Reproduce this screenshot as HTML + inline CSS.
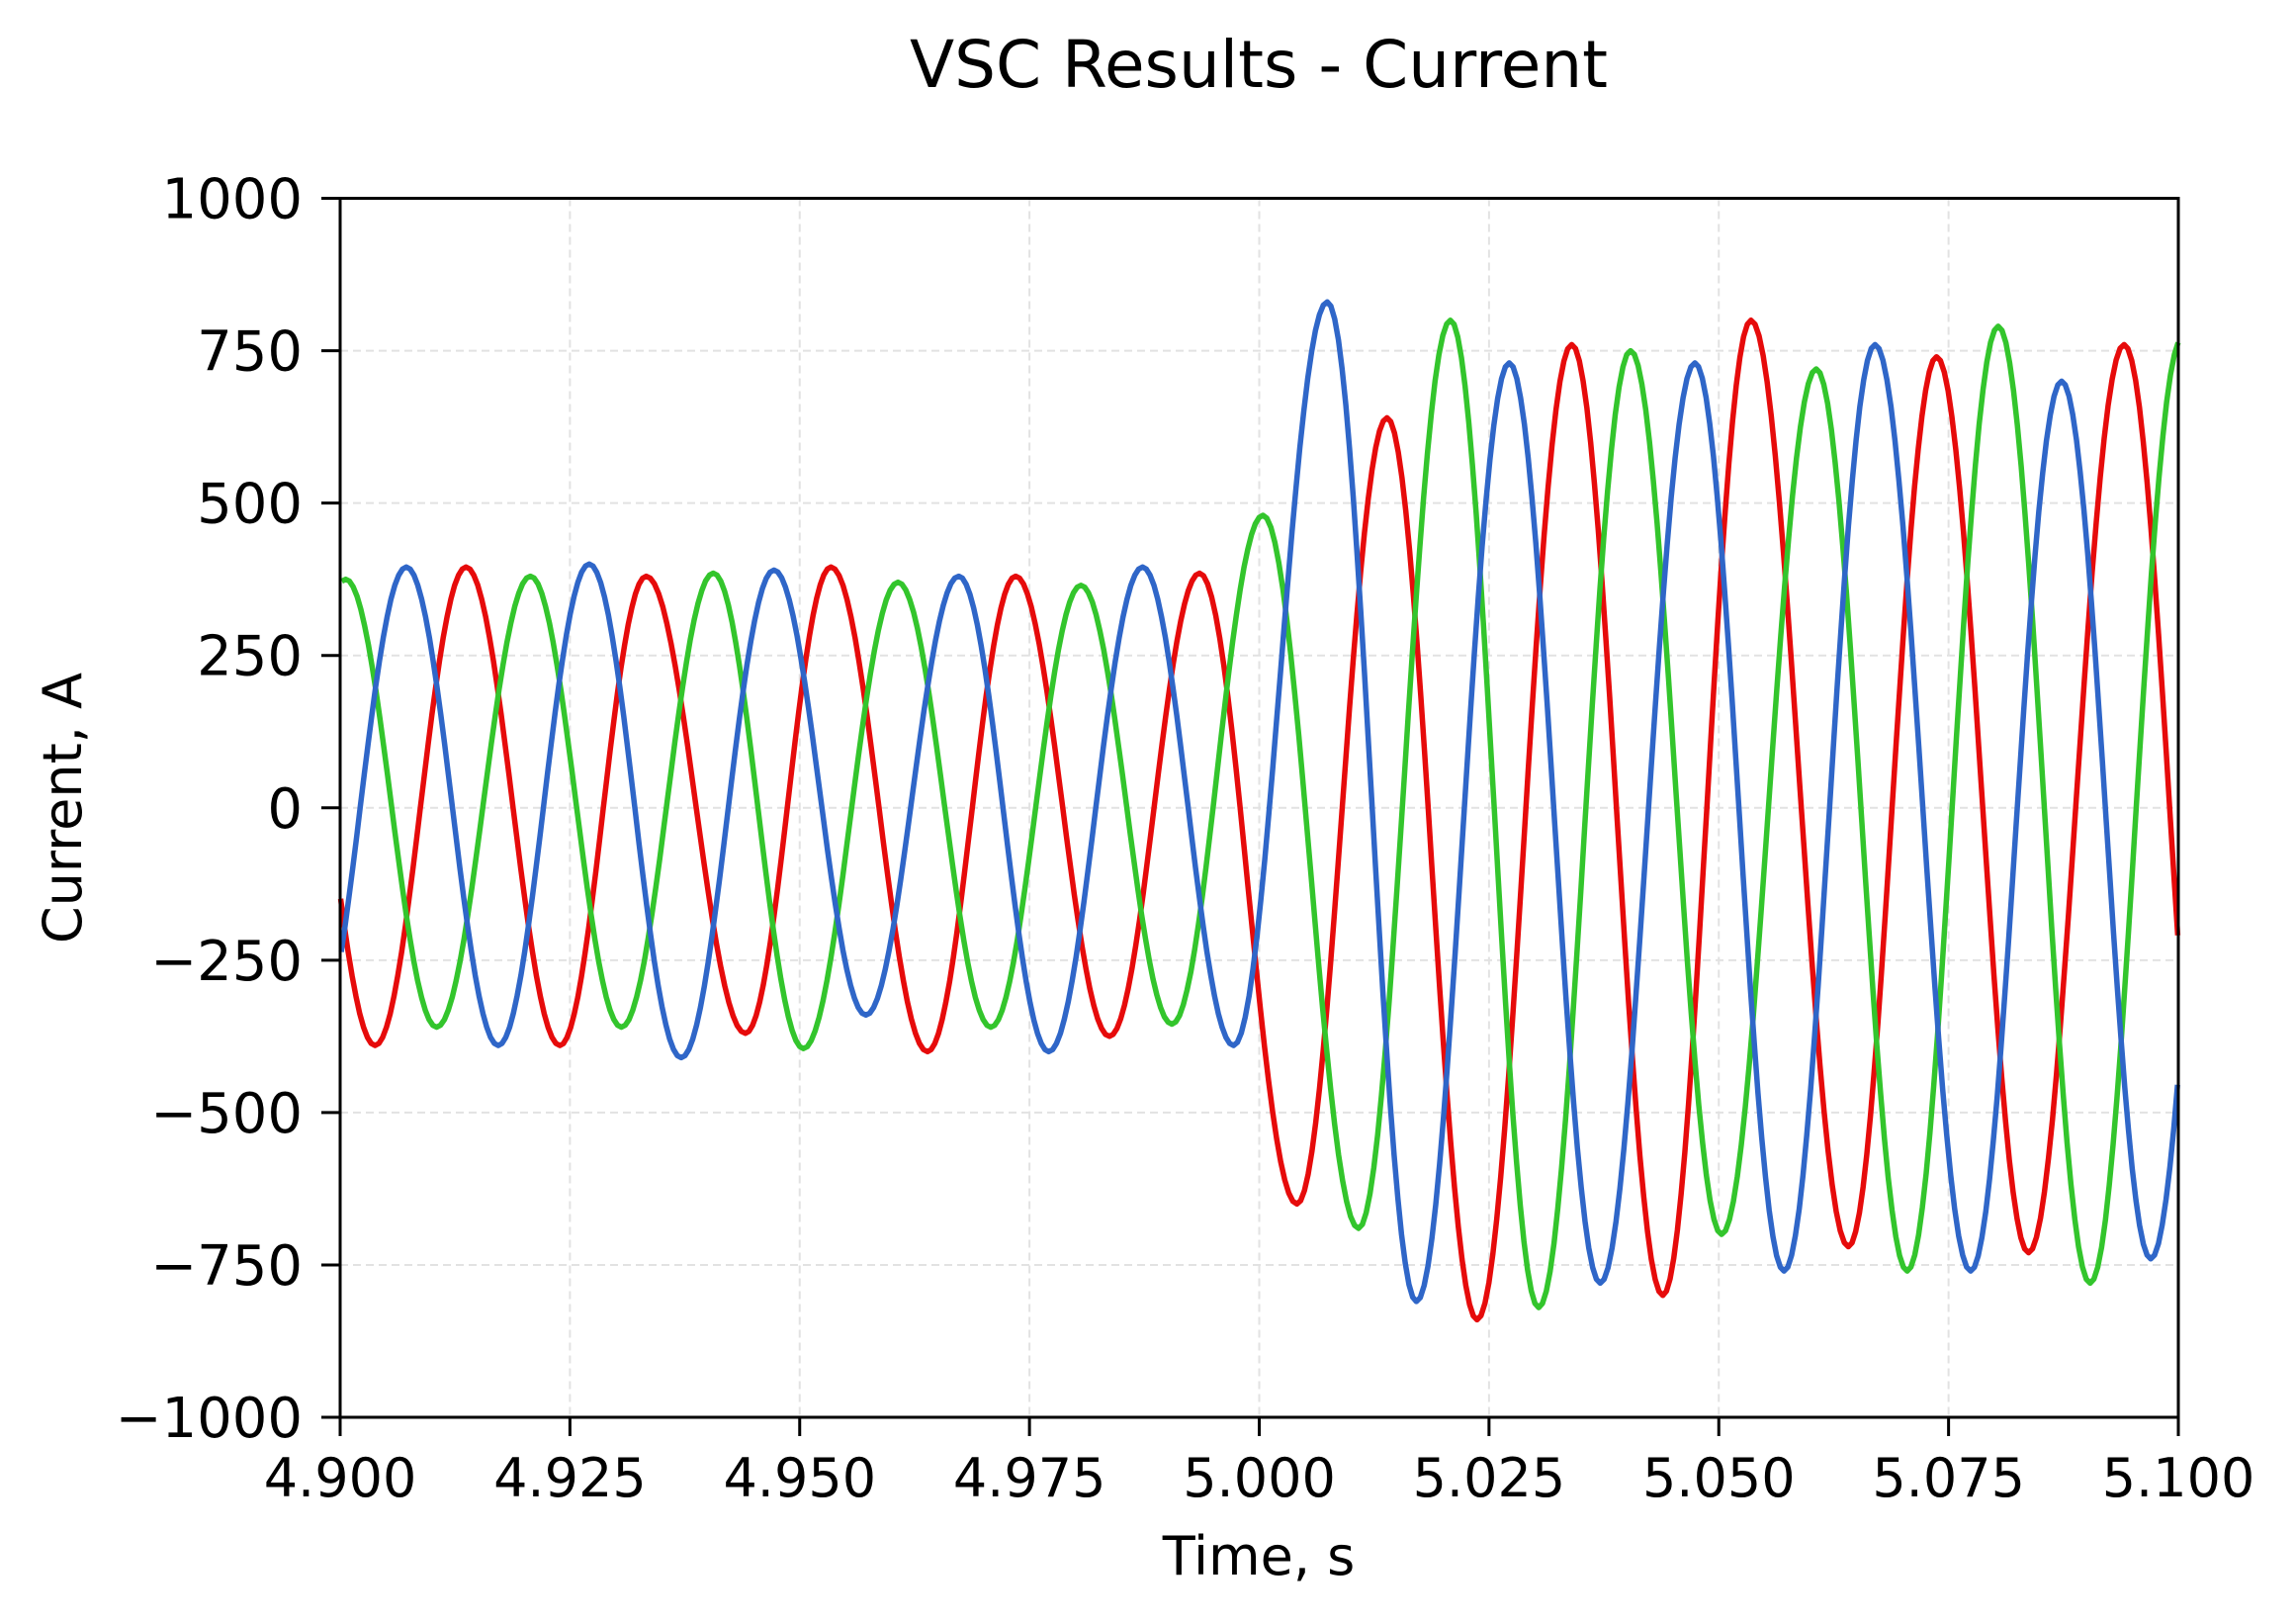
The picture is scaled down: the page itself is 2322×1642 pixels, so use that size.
<!DOCTYPE html>
<html><head><meta charset="utf-8"><style>
html,body{margin:0;padding:0;background:#fff;}
svg{display:block;font-family:"DejaVu Sans","Liberation Sans",sans-serif;}
</style></head><body>
<svg id="chart" width="2322" height="1642" viewBox="0 0 2322 1642" xmlns="http://www.w3.org/2000/svg">
<text x="1273" y="88" font-size="66" text-anchor="middle" fill="#000">VSC Results - Current</text>
<text x="1273" y="1592" font-size="54" text-anchor="middle" fill="#000">Time, s</text>
<text x="0" y="0" font-size="54" text-anchor="middle" fill="#000" transform="translate(82,817) rotate(-90)">Current, A</text>
<g id="grid"></g>
<g id="series"></g>
<rect x="344" y="200.5" width="1859" height="1232.5" fill="none" stroke="#000" stroke-width="3"/>
<g id="ticks"></g>
</svg>
<script>
const xTicks = [4.900, 4.925, 4.950, 4.975, 5.000, 5.025, 5.050, 5.075, 5.100];
const xTickLabels = ["4.900","4.925","4.950","4.975","5.000","5.025","5.050","5.075","5.100"];
const yTicks = [-1000, -750, -500, -250, 0, 250, 500, 750, 1000];
const yTickLabels = ["\u22121000","\u2212750","\u2212500","\u2212250","0","250","500","750","1000"];

// Extremum times / values (phase A red)
const redT = [4.8938,4.9038,4.9137,4.9239,4.9333,4.9441,4.9534,4.9639,4.9735,4.9837,4.9935,5.0041,5.0139,5.0237,5.0340,5.0439,5.0535,5.0641,5.0737,5.0837,5.0941,5.1041];
const redV = [390,-390,395,-390,380,-370,395,-400,380,-375,385,-650,640,-840,760,-800,800,-720,740,-730,760,-780];
// phase B green
const greenT = [4.8905,4.9006,4.9105,4.9207,4.9306,4.9406,4.9504,4.9607,4.9708,4.9806,4.9905,5.0004,5.0108,5.0208,5.0304,5.0404,5.0503,5.0606,5.0705,5.0804,5.0904,5.1004];
const greenV = [-360,375,-360,380,-360,385,-395,370,-360,365,-355,480,-690,800,-820,750,-700,720,-760,790,-780,770];
// phase C blue
const blueT = [4.8972,4.9072,4.9172,4.9271,4.9371,4.9472,4.9572,4.9673,4.9771,4.9873,4.9972,5.0074,5.0171,5.0272,5.0371,5.0474,5.0571,5.0670,5.0774,5.0873,5.0970,5.1070];
const blueV = [-390,395,-390,400,-410,390,-340,380,-400,395,-390,830,-810,730,-780,730,-760,760,-760,700,-740,720];

const X0=344, X1=2203, Y0=1433, Y1=200.5;
const xs = t => X0 + (t-4.9)/(0.2)*(X1-X0);
const ys = v => Y0 - (v+1000)/2000*(Y0-Y1);
const NS="http://www.w3.org/2000/svg";
const grid=document.getElementById('grid'), ticks=document.getElementById('ticks'), series=document.getElementById('series');

xTicks.forEach((t,i)=>{
  const x=xs(t);
  if(i>0&&i<xTicks.length-1){
    const g=document.createElementNS(NS,'line');
    
    
    g.setAttribute('x1',x);g.setAttribute('x2',x);g.setAttribute('y1',Y1);g.setAttribute('y2',Y0);
    g.setAttribute('stroke','#e2e2e2');g.setAttribute('stroke-width','2');g.setAttribute('stroke-dasharray','8,5');
    grid.appendChild(g);
  }
  const tk=document.createElementNS(NS,'line');
  
  
  tk.setAttribute('x1',x);tk.setAttribute('x2',x);tk.setAttribute('y1',Y0);tk.setAttribute('y2',Y0+19);
  tk.setAttribute('stroke','#000');tk.setAttribute('stroke-width','3');
  ticks.appendChild(tk);
  const lb=document.createElementNS(NS,'text');
  
  
  lb.setAttribute('x',x);lb.setAttribute('y',Y0+80);lb.setAttribute('font-size','54');lb.setAttribute('text-anchor','middle');
  lb.textContent=xTickLabels[i];
  ticks.appendChild(lb);
});
yTicks.forEach((v,i)=>{
  const y=ys(v);
  if(i>0&&i<yTicks.length-1){
    const g=document.createElementNS(NS,'line');
    
    
    g.setAttribute('x1',X0);g.setAttribute('x2',X1);g.setAttribute('y1',y);g.setAttribute('y2',y);
    g.setAttribute('stroke','#e2e2e2');g.setAttribute('stroke-width','2');g.setAttribute('stroke-dasharray','8,5');
    grid.appendChild(g);
  }
  const tk=document.createElementNS(NS,'line');
  
  
  tk.setAttribute('x1',X0-19);tk.setAttribute('x2',X0);tk.setAttribute('y1',y);tk.setAttribute('y2',y);
  tk.setAttribute('stroke','#000');tk.setAttribute('stroke-width','3');
  ticks.appendChild(tk);
  const lb=document.createElementNS(NS,'text');
  
  
  lb.setAttribute('x',X0-38);lb.setAttribute('y',y+20);lb.setAttribute('font-size','56');lb.setAttribute('text-anchor','end');
  lb.textContent=yTickLabels[i];
  ticks.appendChild(lb);
});

function drawPhase(T,V,color,name){
  let d='';
  for(let i=0;i<T.length-1;i++){
    for(let k=0;k<=24;k++){
      const f=k/24, t=T[i]+(T[i+1]-T[i])*f;
      if(t<4.9||t>5.1) continue;
      const v=V[i]+(V[i+1]-V[i])*(1-Math.cos(Math.PI*f))/2;
      d+=(d?'L':'M')+xs(t).toFixed(1)+','+ys(v).toFixed(1);
    }
  }
  const p=document.createElementNS(NS,'path');
  
  
  p.setAttribute('d',d);p.setAttribute('fill','none');p.setAttribute('stroke',color);
  p.setAttribute('stroke-width','5.5');p.setAttribute('stroke-linejoin','round');
  series.appendChild(p);
}
drawPhase(redT,redV,'#e60b0b','phase-a-line');
drawPhase(greenT,greenV,'#33c52c','phase-b-line');
drawPhase(blueT,blueV,'#2f66c8','phase-c-line');
</script>
</body></html>
